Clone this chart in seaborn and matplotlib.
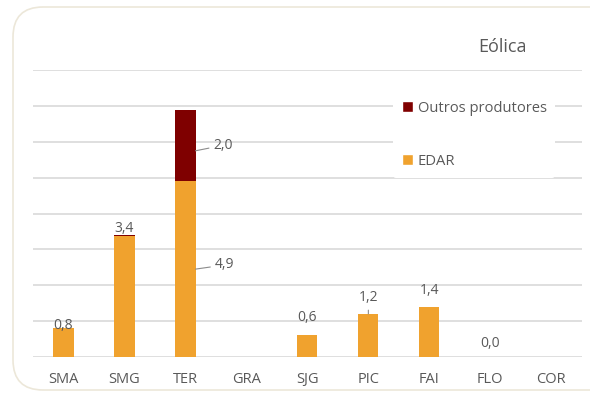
import numpy as np
import pandas as pd
import matplotlib.pyplot as plt
import seaborn as sns
from matplotlib.patches import Patch, FancyBboxPatch

# data
regioes = ['SMA', 'SMG', 'TER', 'GRA', 'SJG', 'PIC', 'FAI', 'FLO', 'COR']
edar = [0.8, 3.37, 4.9, 0, 0.6, 1.2, 1.4, 0.0, 0]
outros = [0, 0.03, 2.0, 0, 0, 0, 0, 0, 0]
rot_edar = ['0,8', '3,4', '4,9', '', '0,6', '1,2', '1,4', '0,0', '']
rot_outros = ['', '', '2,0', '', '', '', '', '', '']

cor_edar = '#f0a22e'
cor_outros = '#7f0000'
cinza = '#595959'

sns.set_theme(style='white')
plt.rcParams['font.family'] = ['Open Sans', 'DejaVu Sans']

df = pd.DataFrame({'regiao': regioes, 'edar': edar, 'outros': outros})
df['total'] = df['edar'] + df['outros']

fig = plt.figure(figsize=(5.9, 3.94), dpi=100)
ax = fig.add_axes([0.056, 0.094, 0.93, 0.728])

# rounded frame around the chart
fig.patches.append(FancyBboxPatch((0.13, 0.04), 6.2, 3.83,
                                  boxstyle='round,pad=0,rounding_size=0.3',
                                  transform=fig.dpi_scale_trans,
                                  facecolor='none', edgecolor='#ece7d9', lw=1.2))

sns.barplot(data=df, x='regiao', y='total', color=cor_outros, saturation=1,
            width=0.33, linewidth=0, ax=ax)
sns.barplot(data=df, x='regiao', y='edar', color=cor_edar, saturation=1,
            width=0.33, linewidth=0, ax=ax)

ax.set_ylim(0, 8)
ax.set_yticks(np.arange(0, 9, 1))
ax.yaxis.grid(True, color='#d9d9d9', lw=1.2)
ax.set_axisbelow(True)
ax.set_yticklabels([])
ax.tick_params(axis='y', length=0)
ax.tick_params(axis='x', length=0, pad=11, labelsize=10.5, labelcolor=cinza)
ax.set_xlabel('')
ax.set_ylabel('')
for s in ax.spines.values():
    s.set_visible(False)

# data labels (offsets in points)
fs = 10
off_edar = [(0, 2), (0, 5.5), (14, 3), None, (0, 13), (0, 11.5), (0, 12), (0, 10), None]
linha = dict(arrowstyle='-', color='#8c8c8c', lw=0.8, shrinkA=1, shrinkB=0)
for i, (v, t) in enumerate(zip(edar, rot_edar)):
    if not t:
        continue
    dx, dy = off_edar[i]
    if regioes[i] == 'TER':
        ax.annotate(t, xy=(i + 0.165, v / 2), xytext=(dx, dy), textcoords='offset points',
                    ha='left', va='center', fontsize=fs, color=cinza, arrowprops=linha)
    elif regioes[i] == 'PIC':
        ax.annotate(t, xy=(i, v), xytext=(dx, dy), textcoords='offset points',
                    ha='center', va='center', fontsize=fs, color=cinza, arrowprops=linha)
    else:
        ax.annotate(t, xy=(i, v), xytext=(dx, dy), textcoords='offset points',
                    ha='center', va='center', fontsize=fs, color=cinza)

for i, (b, v, t) in enumerate(zip(edar, outros, rot_outros)):
    if not t:
        continue
    ax.annotate(t, xy=(i + 0.165, b + v / 2 - 0.15), xytext=(13, 4), textcoords='offset points',
                ha='left', va='center', fontsize=fs, color=cinza, arrowprops=linha)

# title
ax.text(0.856, 1.08, 'Eólica', transform=ax.transAxes, ha='center', va='center',
        fontsize=13, color=cinza)

# legend
handles = [Patch(facecolor=cor_outros, label='Outros produtores'),
           Patch(facecolor=cor_edar, label='EDAR')]
leg = ax.legend(handles=handles, loc='upper left', bbox_to_anchor=(0.643, 0.95),
                frameon=True, facecolor='white', edgecolor='none', framealpha=1,
                fontsize=10.6, labelspacing=2.6, handlelength=0.75, handleheight=0.75,
                handletextpad=0.3, borderpad=0.6)
for txt in leg.get_texts():
    txt.set_color(cinza)

fig.savefig('out.png', dpi=100)
